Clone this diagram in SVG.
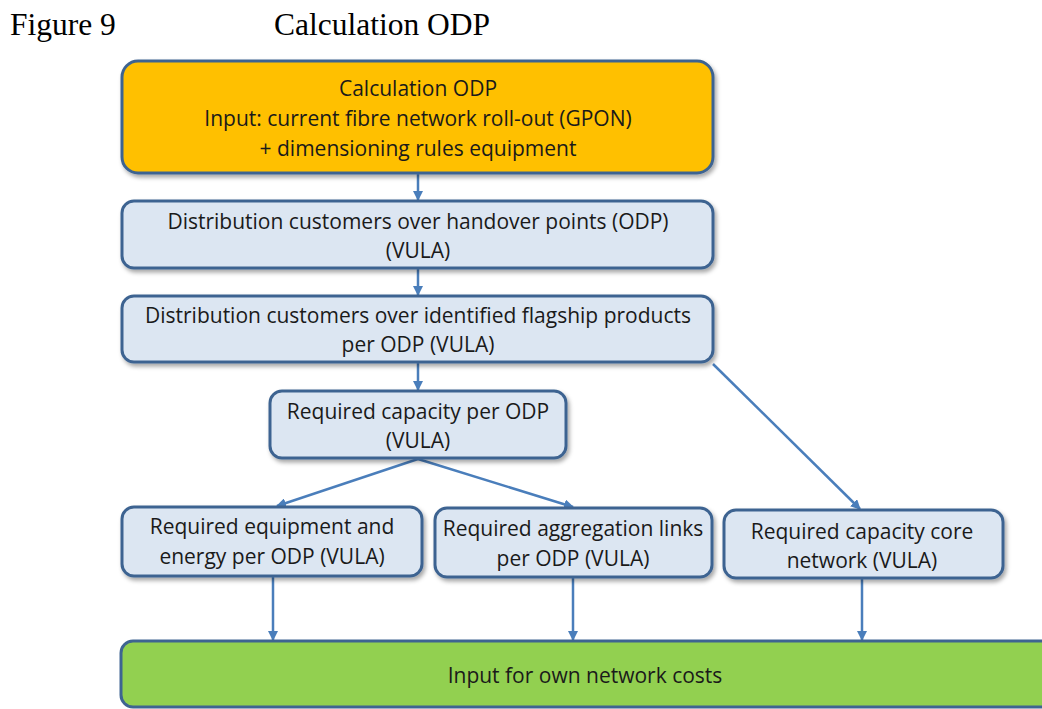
<svg xmlns="http://www.w3.org/2000/svg" width="1042" height="709" viewBox="0 0 1042 709">
<style>
.box{stroke:#3E6491;stroke-width:3}
.blue{fill:#DCE6F2}
.t{font-family:"Open Sans","Noto Sans",sans-serif;font-size:21px;fill:#1a1a1a;text-anchor:middle}
.cap{font-family:"Liberation Serif",serif;font-size:31.5px;fill:#000}
.c{stroke:#4A7EBB;stroke-width:2.5;fill:none;marker-end:url(#ah)}
</style>
<defs>
<marker id="ah" viewBox="0 0 10 10" refX="9" refY="5" markerWidth="4" markerHeight="4" orient="auto" markerUnits="strokeWidth">
<path d="M0,0 L10,5 L0,10 z" fill="#4A7EBB"/>
</marker>
<filter id="sh" x="-5%" y="-10%" width="110%" height="130%">
<feDropShadow dx="2" dy="3" stdDeviation="2" flood-color="#000" flood-opacity="0.35"/>
</filter>
</defs>
<rect width="1042" height="709" fill="#fff"/>
<text class="cap" x="10" y="35">Figure 9</text>
<text class="cap" x="274" y="35">Calculation ODP</text>
<g id="connectors">
<line class="c" x1="418" y1="174" x2="418" y2="200"/>
<line class="c" x1="418" y1="269" x2="418" y2="295"/>
<line class="c" x1="418" y1="363" x2="418" y2="390"/>
<line class="c" x1="713" y1="364" x2="860" y2="509"/>
<line class="c" x1="418" y1="459" x2="277" y2="506"/>
<line class="c" x1="418" y1="459" x2="573" y2="507"/>
<line class="c" x1="273" y1="577" x2="273" y2="640"/>
<line class="c" x1="573" y1="578" x2="573" y2="640"/>
<line class="c" x1="862" y1="579" x2="862" y2="640"/>
</g>
<g id="n1">
<rect class="box" x="122" y="61" width="591" height="112" rx="16" fill="#FFC000" filter="url(#sh)"/>
<text class="t" x="418" y="96">Calculation ODP</text>
<text class="t" x="418" y="126">Input: current fibre network roll-out (GPON)</text>
<text class="t" x="418" y="156">+ dimensioning rules equipment</text>
</g>
<g id="n2">
<rect class="box blue" x="122" y="201" width="591" height="67" rx="12" filter="url(#sh)"/>
<text class="t" x="418" y="229">Distribution customers over handover points (ODP)</text>
<text class="t" x="418" y="258">(VULA)</text>
</g>
<g id="n3">
<rect class="box blue" x="122" y="296" width="591" height="66" rx="12" filter="url(#sh)"/>
<text class="t" x="418" y="323">Distribution customers over identified flagship products</text>
<text class="t" x="418" y="352">per ODP (VULA)</text>
</g>
<g id="n4">
<rect class="box blue" x="270" y="391" width="296" height="67" rx="12" filter="url(#sh)"/>
<text class="t" x="418" y="419">Required capacity per ODP</text>
<text class="t" x="418" y="448">(VULA)</text>
</g>
<g id="n5">
<rect class="box blue" x="122" y="507" width="300" height="69" rx="12" filter="url(#sh)"/>
<text class="t" x="272" y="534">Required equipment and</text>
<text class="t" x="272" y="564">energy per ODP (VULA)</text>
</g>
<g id="n6">
<rect class="box blue" x="435" y="508" width="277" height="69" rx="12" filter="url(#sh)"/>
<text class="t" x="573" y="536">Required aggregation links</text>
<text class="t" x="573" y="566">per ODP (VULA)</text>
</g>
<g id="n7">
<rect class="box blue" x="724" y="510" width="279" height="68" rx="12" filter="url(#sh)"/>
<text class="t" x="862" y="539">Required capacity core</text>
<text class="t" x="862" y="568">network (VULA)</text>
</g>
<g id="n8">
<rect class="box" x="121" y="641" width="940" height="66" rx="12" fill="#92D050"/>
<text class="t" x="585" y="683">Input for own network costs</text>
</g>
</svg>
